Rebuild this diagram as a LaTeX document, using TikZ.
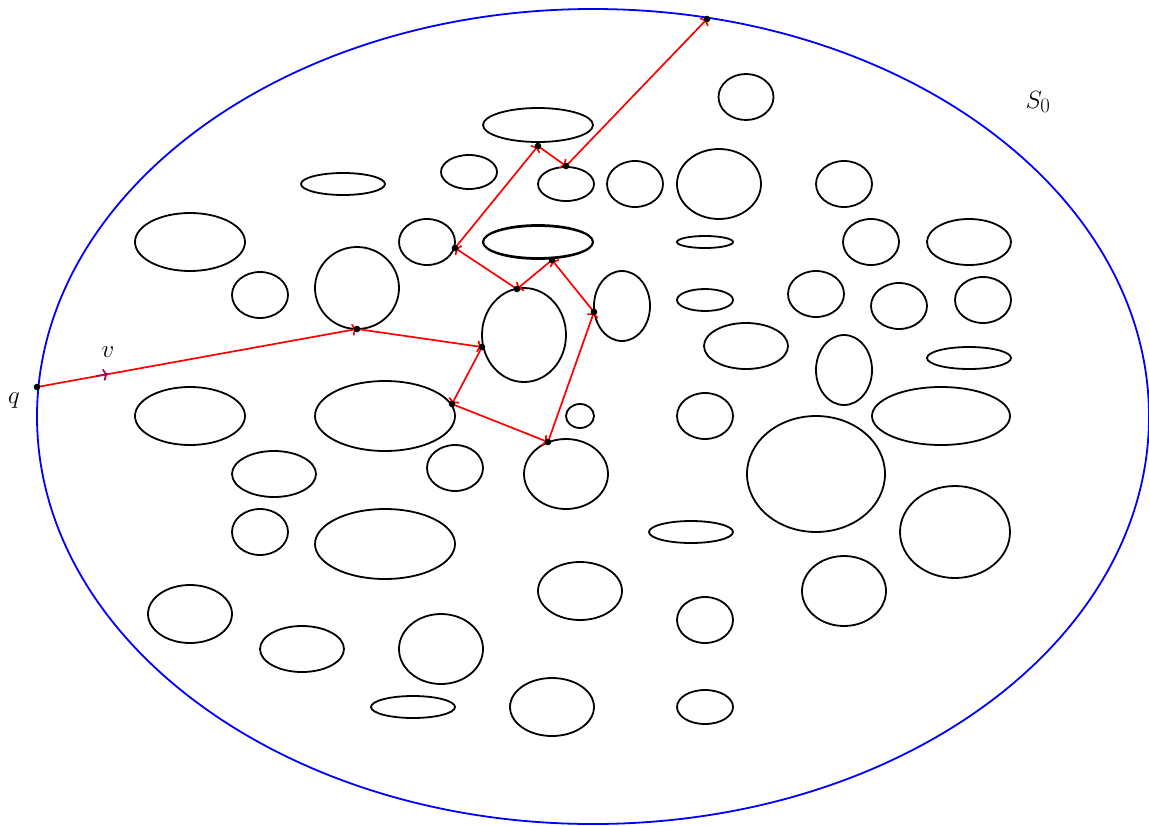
\documentclass[tikz,border=0pt]{standalone}
\usepackage{amsmath,amssymb}
\usepackage{xcolor}
\usepackage{tikz}
\usetikzlibrary{arrows,arrows.meta,calc}

\begin{document}
\begin{tikzpicture}[
    x=1pt, y=-1pt,
    >={To[length=5pt,width=12pt]},
    obstacle/.style={
        draw=black, line width=1.8pt
    },
    boundary/.style={
        draw=blue, line width=1.8pt
    },
    ray/.style={
        ->, draw=red, line width=1.7pt
    },
    dir/.style={
        ->, draw=red!70!blue, line width=1.7pt
    },
    hit/.style={
        fill=black
    },
    lbl/.style={
        font=\fontsize{29}{34}\selectfont, inner sep=0pt
    }
]
\useasboundingbox (0,0) rectangle (1149,825);

% — Domain S_0 —
\draw[boundary] (593,416.5) ellipse [x radius=556, y radius=407.5];

% — Obstacles (center x, center y, x radius, y radius) —
\foreach \cx/\cy/\rx/\ry in {
    746/97/27.5/23, 538/125/55/17, 469/172/28/17, 343/184/42/11,
    566/184/28/17, 635/184/28/23, 719/184/42/35, 844/184/28/23,
    190/242/55/29, 427/242/28/23, 538/242/55/17, 705/242/28/6,
    871/242/28/23, 969/242/42/23, 260/295/28/23, 357/288/42/41,
    524/335/42/47, 622/306/28/35, 705/300/28/11, 816/294/28/23,
    899/306/28/23, 983/300/28/23, 746/346/42/23, 844/370/28/35,
    969/358/42/11, 190/416/55/29, 385/416/70/35, 580/416/14/12,
    705/416/28/23, 941/416/69/29, 274/474/42/23, 455/468/28/23,
    566/474/42/35, 816/474/69/58, 260/532/28/23, 385/544/70/35,
    691/532/42/11, 955/532/55/46, 580/591/42/29, 844/591/42/35,
    190/614/42/29, 302/649/42/23, 441/649/42/35, 705/620/28/23,
    413/707/42/11, 552/707/42/29, 705/707/28/17}
    \draw[obstacle] (\cx,\cy) ellipse [x radius=\rx, y radius=\ry];
\draw[obstacle] (538,242) ellipse [x radius=55, y radius=16];

% — Reflection points —
\coordinate (q)   at (37,387);
\coordinate (p1)  at (357,329);
\coordinate (p2)  at (482,347);
\coordinate (p3)  at (452,404);
\coordinate (p4)  at (548,442);
\coordinate (p5)  at (594,312);
\coordinate (p6)  at (552,260);
\coordinate (p7)  at (517,289);
\coordinate (p8)  at (455,248);
\coordinate (p9)  at (538,146);
\coordinate (p10) at (566,166);
\coordinate (p11) at (707,19);
\coordinate (vtail) at (96,376.1);
\coordinate (vtip)  at (108,374.1);

% — Billiard trajectory —
\draw[ray] (q) -- (p1);
\draw[ray] (p1) -- (p2);
\draw[ray] (p2) -- (p3);
\draw[ray] (p3) -- (p4);
\draw[ray] (p4) -- (p5);
\draw[ray] (p5) -- (p6);
\draw[ray] (p6) -- (p7);
\draw[ray] (p7) -- (p8);
\draw[ray] (p8) -- (p9);
\draw[ray] (p9) -- (p10);
\draw[ray] (p10) -- (p11);
\draw[dir] (vtail) -- (vtip);

\foreach \p in {q,p1,p2,p3,p4,p5,p6,p7,p8,p9,p10,p11}
    \fill[hit] (\p) circle [radius=3.3];

% — Labels —
\node[lbl] (qlabel) at (14,401) {$q$};
\node[lbl] (vlabel) at (108,352) {$v$};
\node[lbl] (slabel) at (1038,102) {$S_0$};

\end{tikzpicture}
\end{document}
